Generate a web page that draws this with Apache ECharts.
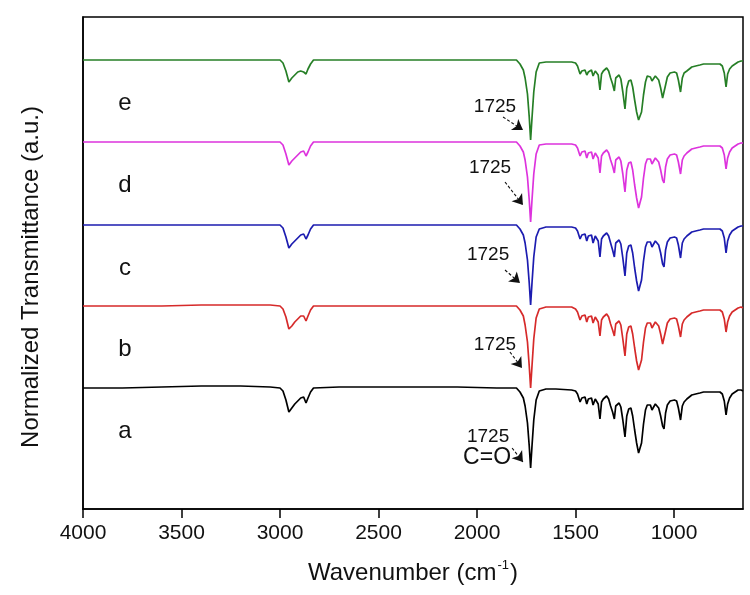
<!DOCTYPE html>
<html><head><meta charset="utf-8">
<script src="https://cdn.jsdelivr.net/npm/echarts@6/dist/echarts.min.js"></script>
<style>html,body{margin:0;padding:0;background:#fff}#c{width:750px;height:595px}</style>
</head><body><div id="c"></div>
<script>
// Wavenumber sample points (cm-1)
const wavenumbers = [
  4000,3800,3600,3400,3200,3050,3000,2985,2970,2955,
  2940,2925,2910,2895,2880,2868,2858,2845,2830,2700,
  2500,2300,2100,1900,1800,1782,1765,1756,1744,1735,
  1728,1721,1712,1700,1684,1650,1600,1520,1500,1490,
  1477,1468,1460,1452,1443,1435,1427,1419,1411,1400,
  1393,1385,1376,1368,1359,1350,1342,1332,1322,1312,
  1303,1296,1287,1279,1270,1260,1249,1240,1230,1219,
  1210,1200,1190,1180,1173,1165,1155,1145,1136,1128,
  1120,1112,1105,1095,1088,1078,1068,1058,1051,1043,
  1034,1020,1010,998,987,978,967,958,949,935,
  925,910,890,869,850,834,800,767,755,745,
  736,728,718,705,690,675,660,650
];
// Normalized transmittance (a.u., baseline ~100)
const specA = [
  100,100,101,102,102,101,100,97,88,76,
  80,84,87,90,91,85,90,96,100,101,
  101,101,101,100,100,96,90,82,65,42,
  20,42,68,88,97,99,99,98,97,94,
  86,90,89,91,84,89,88,90,83,89,
  90,84,69,86,89,91,92,89,82,76,
  69,82,84,85,81,68,51,72,79,80,
  72,58,45,35,33,45,64,78,83,84,
  83,78,79,84,83,80,72,62,59,75,
  83,87,88,88,87,80,68,82,86,89,
  90,93,94,95,96,96,96,96,94,87,
  73,84,90,94,96,98,98,97
];
const specB = [
  100,100,100,101,101,101,100,97,89,77,
  80,84,87,90,90,85,90,96,100,100,
  100,100,100,100,100,96,90,81,64,40,
  18,40,67,88,97,99,99,99,97,94,
  86,90,88,91,84,89,88,90,83,89,
  90,84,70,86,89,91,92,89,82,76,
  70,82,84,85,81,67,50,72,79,80,
  72,58,45,36,34,46,64,78,83,84,
  83,78,79,84,83,80,72,62,60,75,
  83,87,88,88,87,80,69,82,86,89,
  90,93,94,95,96,96,96,96,94,87,
  74,84,90,94,96,98,99,98
];
const specC = [
  100,100,100,100,100,100,100,97,88,77,
  81,84,87,90,91,86,90,96,100,100,
  100,100,100,100,100,96,90,82,65,42,
  20,42,68,88,96,98,98,98,97,94,
  86,90,89,91,84,89,88,90,82,89,
  90,84,68,86,89,91,92,89,82,75,
  68,82,84,85,81,67,49,72,79,80,
  72,57,44,34,32,45,64,78,83,84,
  83,78,79,84,83,80,72,61,58,75,
  83,87,88,88,87,80,67,82,86,89,
  90,93,94,95,96,96,96,96,94,87,
  72,84,90,94,96,98,99,99
];
const specD = [
  100,100,100,100,100,100,100,97,88,77,
  81,84,87,90,91,86,90,96,100,100,
  100,100,100,100,100,96,90,82,65,42,
  20,42,68,88,97,98,98,98,97,94,
  86,90,89,91,84,89,88,90,83,89,
  90,84,69,86,89,91,92,89,82,76,
  69,82,84,85,81,68,50,72,79,80,
  72,57,44,34,32,45,64,78,83,84,
  83,78,79,84,83,80,72,62,59,75,
  83,87,88,88,87,80,68,82,86,89,
  90,93,94,95,96,96,96,96,94,87,
  73,84,90,94,96,98,99,99
];
const specE = [
  100,100,100,100,100,100,100,97,89,78,
  82,85,88,89,88,86,91,96,100,100,
  100,100,100,100,100,96,90,82,66,43,
  20,42,68,88,97,98,98,98,97,94,
  86,89,88,90,85,88,88,90,84,89,
  90,85,70,86,89,91,92,89,82,76,
  69,82,84,85,81,68,51,72,79,80,
  73,60,48,40,38,48,65,78,84,84,
  83,79,80,84,83,80,72,62,60,75,
  83,87,88,88,87,80,68,82,87,89,
  91,93,94,95,96,96,96,96,94,87,
  73,86,91,94,96,98,99,99
];
const sampleLabels = ['a','b','c','d','e'];
const peakLabel = '1725';
const bondLabel = 'C=O';
const xTickValues = [4000,3500,3000,2500,2000,1500,1000];

// ---- presentation ----
const FONT = '"Liberation Sans", Arial, Helvetica, sans-serif';
const spectra = [specA, specB, specC, specD, specE];
const stackOffsets = [21, 103, 184, 267, 349];   // vertical offset for clarity
const colors = ['#000000', '#d62a2a', '#1c1cb0', '#dd33dd', '#267f26'];
const annot = [
  {t:[1944,72],  s:[1822,61],  e:[1767,47], bond:[1949,51]},
  {t:[1909,164], s:[1833,157], e:[1772,141]},
  {t:[1944,254], s:[1858,239], e:[1782,226]},
  {t:[1934,341], s:[1858,327], e:[1767,304]},
  {t:[1909,402], s:[1868,392], e:[1767,379]}
];

const series = spectra.map((sp, k) => {
  const pts = [
    {name: sampleLabels[k], coord: [3787, stackOffsets[k] + 57], label: {fontSize: 24}},
    {name: peakLabel, coord: annot[k].t, label: {fontSize: 19}}
  ];
  if (annot[k].bond) pts.push({name: bondLabel, coord: annot[k].bond, label: {fontSize: 23}});
  return {
    type: 'line',
    name: sampleLabels[k],
    data: wavenumbers.map((w, i) => [w, stackOffsets[k] + sp[i]]),
    showSymbol: false,
    lineStyle: {color: colors[k], width: 1.7},
    itemStyle: {color: colors[k]},
    z: 3,
    markPoint: {
      symbol: 'rect', symbolSize: 1, silent: true,
      itemStyle: {color: 'rgba(0,0,0,0)'},
      label: {show: true, position: 'inside', formatter: '{b}', color: '#111', fontFamily: FONT},
      data: pts
    },
    markLine: {
      silent: true,
      symbol: ['none', 'arrow'],
      symbolSize: 10,
      label: {show: false},
      itemStyle: {color: '#111'},
      lineStyle: {color: '#111', width: 1.1, type: [3, 2]},
      emphasis: {disabled: true},
      data: [[
        {coord: annot[k].s, symbol: 'none'},
        {coord: annot[k].e, symbol: 'arrow', symbolSize: 10, itemStyle: {color: '#111'}}
      ]]
    }
  };
});

const chart = echarts.init(document.getElementById('c'));
chart.setOption({
  animation: false,
  backgroundColor: '#fff',
  grid: {left: 83, right: 7, top: 17, bottom: 86, show: true, borderColor: '#000', borderWidth: 1.5, containLabel: false},
  xAxis: {
    type: 'value', min: 650, max: 4000, inverse: true,
    axisLine: {show: true, lineStyle: {color: '#000', width: 1.5}},
    axisTick: {show: true, length: 9, inside: false, lineStyle: {color: '#000', width: 1.5}, customValues: xTickValues},
    axisLabel: {customValues: xTickValues, formatter: v => String(v), fontSize: 21, margin: 14, color: '#111', fontFamily: FONT},
    splitLine: {show: false},
    name: 'Wavenumber (cm{sup|-1})',
    nameLocation: 'middle', nameGap: 50,
    nameTextStyle: {fontSize: 24, color: '#111', fontFamily: FONT, lineHeight: 28,
      rich: {sup: {fontSize: 13, verticalAlign: 'top', lineHeight: 14, color: '#111', fontFamily: FONT, padding: [0, 1, 0, 1]}}}
  },
  yAxis: {
    type: 'value', min: 0, max: 492,
    axisLine: {show: true, lineStyle: {color: '#000', width: 1.5}},
    axisTick: {show: false}, axisLabel: {show: false}, splitLine: {show: false},
    name: 'Normalized Transmittance (a.u.)',
    nameLocation: 'middle', nameGap: 40,
    nameTextStyle: {fontSize: 24, color: '#111', fontFamily: FONT, padding: [0, 28, 0, 0]}
  },
  series: series
});
</script></body></html>
